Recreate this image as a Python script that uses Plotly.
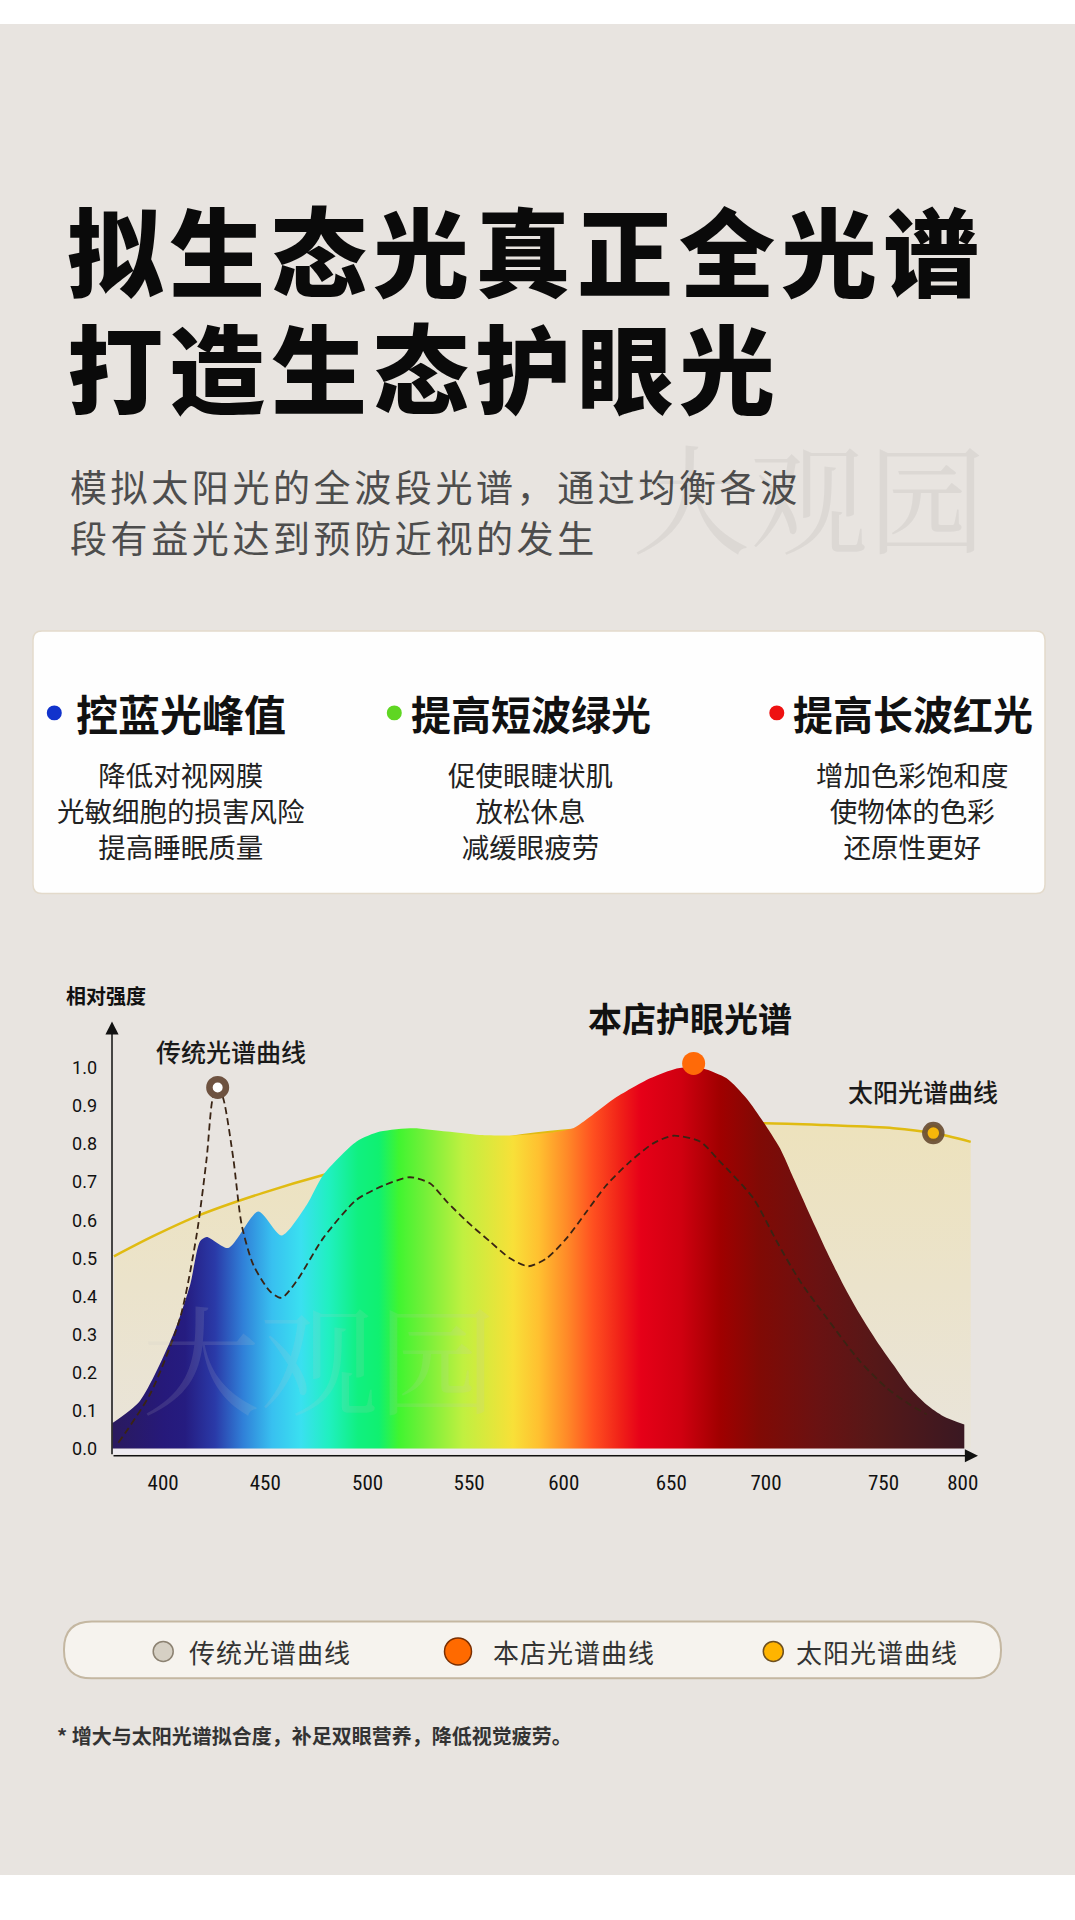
import plotly.graph_objects as go

# ---- values ----
store_wl = [374.7, 388.4, 405.1, 413.5, 418.5, 421.8, 432.6, 447.6, 459.3, 471.8,
            480.1, 496.8, 508.5, 525.2, 541.9, 558.5, 575.2, 591.9, 605.2, 613.6,
            625.2, 643.6, 656.9, 663.6, 670.2, 681.9, 691.9, 700.2, 708.6, 715.3,
            723.6, 732.0, 740.3, 748.6, 757.0, 765.3, 773.6, 782.0, 790.3, 800.8]
store_val = [0.067, 0.125, 0.300, 0.430, 0.545, 0.556, 0.527, 0.623, 0.560, 0.640,
             0.719, 0.807, 0.833, 0.842, 0.833, 0.824, 0.823, 0.829, 0.842, 0.872,
             0.918, 0.973, 0.999, 1.003, 0.999, 0.973, 0.920, 0.859, 0.789, 0.711,
             0.614, 0.518, 0.430, 0.352, 0.282, 0.220, 0.159, 0.115, 0.085, 0.063]

trad_wl = [377.6, 393.4, 408.5, 416.8, 421.8, 424.8, 427.3, 430.1, 435.1, 439.3,
           445.1, 453.5, 459.3, 466.8, 480.1, 496.8, 510.2, 523.5, 533.5, 541.9,
           551.9, 563.5, 573.5, 582.7, 591.9, 601.9, 611.9, 621.9, 633.6, 645.2,
           655.2, 668.6, 677.7, 695.2, 707.0, 718.7, 732.0, 748.6, 762.0, 773.6, 782.0]
trad_val = [0.015, 0.142, 0.343, 0.562, 0.763, 0.920, 0.949, 0.920, 0.763, 0.588,
            0.483, 0.413, 0.396, 0.440, 0.553, 0.654, 0.691, 0.713, 0.697, 0.649,
            0.597, 0.544, 0.500, 0.479, 0.500, 0.553, 0.623, 0.693, 0.754, 0.802,
            0.822, 0.807, 0.759, 0.658, 0.544, 0.439, 0.343, 0.229, 0.159, 0.115, 0.090]

sun_wl = [375.4, 395.0, 418.5, 450.0, 480.1, 520.0, 560.0, 600.0, 650.0, 701.1,
          732.0, 765.3, 785.3, 804.0]
sun_val = [0.505, 0.558, 0.614, 0.672, 0.719, 0.770, 0.808, 0.835, 0.852, 0.855,
           0.850, 0.842, 0.829, 0.806]

trad_mark = (427.3, 0.949)
store_mark = (665.4, 1.012)
sun_mark = (785.3, 0.829)

x_tick_pos = [400.0, 451.1, 502.3, 553.1, 600.4, 654.2, 701.6, 760.4, 800.0]
x_tick_text = ["400", "450", "500", "550", "600", "650", "700", "750", "800"]
y_tick_pos = [0.0, 0.1, 0.2, 0.3, 0.4, 0.5, 0.6, 0.7, 0.8, 0.9, 1.0]
y_tick_text = ["0.0", "0.1", "0.2", "0.3", "0.4", "0.5", "0.6", "0.7", "0.8", "0.9", "1.0"]

# spectrum colours along the wavelength axis
grad_wl = [374.7, 400, 411, 426, 440, 454.5, 469, 483, 497.5, 508, 518, 530, 550,
           575, 588, 602, 615, 629, 639, 659, 678.6, 698.6, 727.4, 756, 800.8]
grad_col = ["#2a1a5e", "#26197a", "#251c80", "#2a3aa8", "#3080d8", "#38c0f0",
            "#3ae0f0", "#20f0c0", "#10f080", "#10f070", "#40f530", "#70f038",
            "#c0f040", "#f8e038", "#ffc030", "#ff8a28", "#ff5020", "#f02018",
            "#e60018", "#d00010", "#a00000", "#800a05", "#6a1212", "#561818", "#3a1822"]

title_lines = ["拟生态光真正全光谱", "打造生态护眼光"]
subtitle_lines = ["模拟太阳光的全波段光谱，通过均衡各波", "段有益光达到预防近视的发生"]
card_heads = ["控蓝光峰值", "提高短波绿光", "提高长波红光"]
card_dots = ["#1133cc", "#5fd622", "#ee1111"]
card_body = [
    ["降低对视网膜", "光敏细胞的损害风险", "提高睡眠质量"],
    ["促使眼睫状肌", "放松休息", "减缓眼疲劳"],
    ["增加色彩饱和度", "使物体的色彩", "还原性更好"],
]
legend_names = ["传统光谱曲线", "本店光谱曲线", "太阳光谱曲线"]
footnote = "* 增大与太阳光谱拟合度，补足双眼营养，降低视觉疲劳。"

W, H = 1075, 1920
CJK = "Noto Sans CJK SC, Noto Sans CJK JP, sans-serif"
BG = "#e8e4e0"


def px(x):
    return x / W


def py(y):
    return 1 - y / H


def rounded_path(x0, y0, x1, y1, r):
    pts = [("M", x0 + r, y0), ("L", x1 - r, y0), ("Q", x1, y0, x1, y0 + r),
           ("L", x1, y1 - r), ("Q", x1, y1, x1 - r, y1), ("L", x0 + r, y1),
           ("Q", x0, y1, x0, y1 - r), ("L", x0, y0 + r), ("Q", x0, y0, x0 + r, y0)]
    out = ""
    for p in pts:
        cmd, vals = p[0], p[1:]
        coords = []
        for i in range(0, len(vals), 2):
            coords.append(f"{px(vals[i]):.5f},{py(vals[i + 1]):.5f}")
        out += cmd + " ".join(coords) + " "
    return out + "Z"


def spaced(s, sp):
    return f'<span style="letter-spacing:{sp}px">{s}</span>'


fig = go.Figure()

# sunlight curve with its pale fill
fig.add_trace(go.Scatter(
    x=sun_wl, y=sun_val, mode="lines", name="太阳光谱曲线",
    line=dict(color="#e0bb12", width=2.5, shape="spline", smoothing=0.8),
    fill="tozeroy",
    fillgradient=dict(type="vertical", start=0, stop=0.86,
                      colorscale=[[0, "#e9e4da"], [1, "#ede2bc"]]),
))

# store spectrum, coloured by wavelength
span = grad_wl[-1] - grad_wl[0]
fig.add_trace(go.Scatter(
    x=store_wl, y=store_val, mode="lines", name="本店光谱曲线",
    line=dict(width=0, shape="spline", smoothing=0.7),
    fill="tozeroy",
    fillgradient=dict(type="horizontal", start=grad_wl[0], stop=grad_wl[-1],
                      colorscale=[[(w - grad_wl[0]) / span, c] for w, c in zip(grad_wl, grad_col)]),
))

# traditional spectrum (dashed)
fig.add_trace(go.Scatter(
    x=trad_wl, y=trad_val, mode="lines", name="传统光谱曲线",
    line=dict(color="#3a2414", width=1.8, dash="7px,4px", shape="spline", smoothing=0.7),
))

fig.add_trace(go.Scatter(
    x=[trad_mark[0]], y=[trad_mark[1]], mode="markers", cliponaxis=False,
    marker=dict(size=16.5, color="white", line=dict(color="#6e5240", width=6.5)),
))
fig.add_trace(go.Scatter(
    x=[store_mark[0]], y=[store_mark[1]], mode="markers", cliponaxis=False,
    marker=dict(size=23, color="#ff6a08", line=dict(width=0)),
))
fig.add_trace(go.Scatter(
    x=[sun_mark[0]], y=[sun_mark[1]], mode="markers", cliponaxis=False,
    marker=dict(size=17, color="#f7b70a", line=dict(color="rgba(105,78,52,0.92)", width=5.5)),
))

x_range = [374.44, 807.65]
y_range = [-0.019, 1.1226]

shapes = [
    dict(type="rect", xref="paper", yref="paper", x0=0, x1=1, y0=py(1878), y1=py(24),
         fillcolor=BG, line=dict(width=0), layer="below"),
    dict(type="path", xref="paper", yref="paper", path=rounded_path(33, 632, 1045, 895, 9),
         fillcolor="#fefefe", line=dict(color="#e3dacb", width=1.5), layer="below"),
    dict(type="path", xref="paper", yref="paper", path=rounded_path(64, 1624, 1001, 1681, 28),
         fillcolor="#f6f3ee", line=dict(color="#c4b7a1", width=2), layer="below"),
    dict(type="rect", xref="x", yref="y", x0=grad_wl[0], x1=grad_wl[-1], y0=-0.015, y1=0,
         fillcolor="#eeebf1", line=dict(width=0), layer="below"),
]

# card bullet dots
for cx, col in zip([54.3, 394.3, 776.8], card_dots):
    shapes.append(dict(type="circle", xref="paper", yref="paper",
                       x0=px(cx - 7.5), x1=px(cx + 7.5), y0=py(714 + 7.5), y1=py(714 - 7.5),
                       fillcolor=col, line=dict(width=0)))

# legend dots
for cx, d, fc, lc in [(163.2, 20, "#d6d0c4", "#8c8272"), (458, 27, "#ff6a00", "#7a2e00"),
                      (773.3, 20, "#ffb400", "#6e5020")]:
    shapes.append(dict(type="circle", xref="paper", yref="paper",
                       x0=px(cx - d / 2), x1=px(cx + d / 2), y0=py(1654 + d / 2), y1=py(1654 - d / 2),
                       fillcolor=fc, line=dict(color=lc, width=1.5)))

ann = []


def text(x, y, s, size, color="#111", weight="normal", xanchor="left", family=CJK):
    ann.append(dict(x=px(x), y=py(y), xref="paper", yref="paper", text=s, showarrow=False,
                    xanchor=xanchor, yanchor="middle",
                    font=dict(family=family, size=size, color=color, weight=weight)))


# header
text(65, 247.5, spaced(title_lines[0], 6), 96, "#0a0a0a", 900)
text(65, 365, spaced(title_lines[1], 6), 96, "#0a0a0a", 900)
text(68, 487, spaced(subtitle_lines[0], 3.6), 37, "#4d4d4d")
text(68, 538, spaced(subtitle_lines[1], 3.6), 37, "#4d4d4d")
text(809, 495, "大观园", 118, "rgba(0,0,0,0.05)", xanchor="center",
     family="Noto Serif CJK SC, " + CJK)

# card
for cx, head, body, hs in zip([181, 530.5, 912.5], card_heads, card_body, [42, 40, 40]):
    text(cx, 714, head, hs, "#111", "bold", "center")
    ann.append(dict(x=px(cx), y=py(811.7), xref="paper", yref="paper", text="<br>".join(body),
                    showarrow=False, xanchor="center", yanchor="middle", align="center",
                    font=dict(family=CJK, size=27.5, color="#222")))

# chart labels
text(106, 997, "相对强度", 20, "#111", "bold", "center")
text(689.5, 1019, "本店护眼光谱", 34, "#111", "bold", "center")
text(230.5, 1053, "传统光谱曲线", 25, "#1a1a1a", 500, "center")
text(922.5, 1092.7, "太阳光谱曲线", 25, "#1a1a1a", 500, "center")
text(319, 1357, "大观园", 118, "rgba(200,200,200,0.14)", xanchor="center",
     family="Noto Serif CJK SC, " + CJK)

# legend labels
for lx, name in zip([186.5, 490.9, 793.9], legend_names):
    text(lx, 1654, spaced(name, 1), 26, "#333")

text(55, 1738, footnote, 20, "#333", "bold")

# axis lines with arrow heads
ann.append(dict(x=x_range[0], y=y_range[1], ax=x_range[0], ay=y_range[0], xref="x", yref="y",
                axref="x", ayref="y", text="", showarrow=True, arrowhead=2, arrowsize=1.75,
                arrowwidth=1.5, arrowcolor="#111"))
ann.append(dict(x=x_range[1], y=y_range[0], ax=x_range[0], ay=y_range[0], xref="x", yref="y",
                axref="x", ayref="y", text="", showarrow=True, arrowhead=2, arrowsize=1.75,
                arrowwidth=1.5, arrowcolor="#111"))

fig.update_layout(
    width=W, height=H,
    margin=dict(l=0, r=0, t=0, b=0),
    paper_bgcolor="white",
    plot_bgcolor="rgba(0,0,0,0)",
    showlegend=False,
    shapes=shapes,
    annotations=ann,
    xaxis=dict(domain=[px(112), px(978)], range=x_range, showgrid=False, zeroline=False,
               showline=False, tickvals=x_tick_pos, ticktext=x_tick_text, ticks="",
               ticklabelstandoff=12,
               tickfont=dict(family="Liberation Sans Narrow, Roboto Condensed, Roboto", size=21,
                             color="#111")),
    yaxis=dict(domain=[py(1458), py(1023)], range=y_range, showgrid=False, zeroline=False,
               showline=False, tickvals=y_tick_pos, ticktext=y_tick_text, ticks="",
               ticklabelstandoff=14,
               tickfont=dict(family="Roboto, sans-serif", size=18, color="#111")),
)

fig.write_html("out.html", config={"displayModeBar": False},
               post_script="document.body.style.margin='0';")
